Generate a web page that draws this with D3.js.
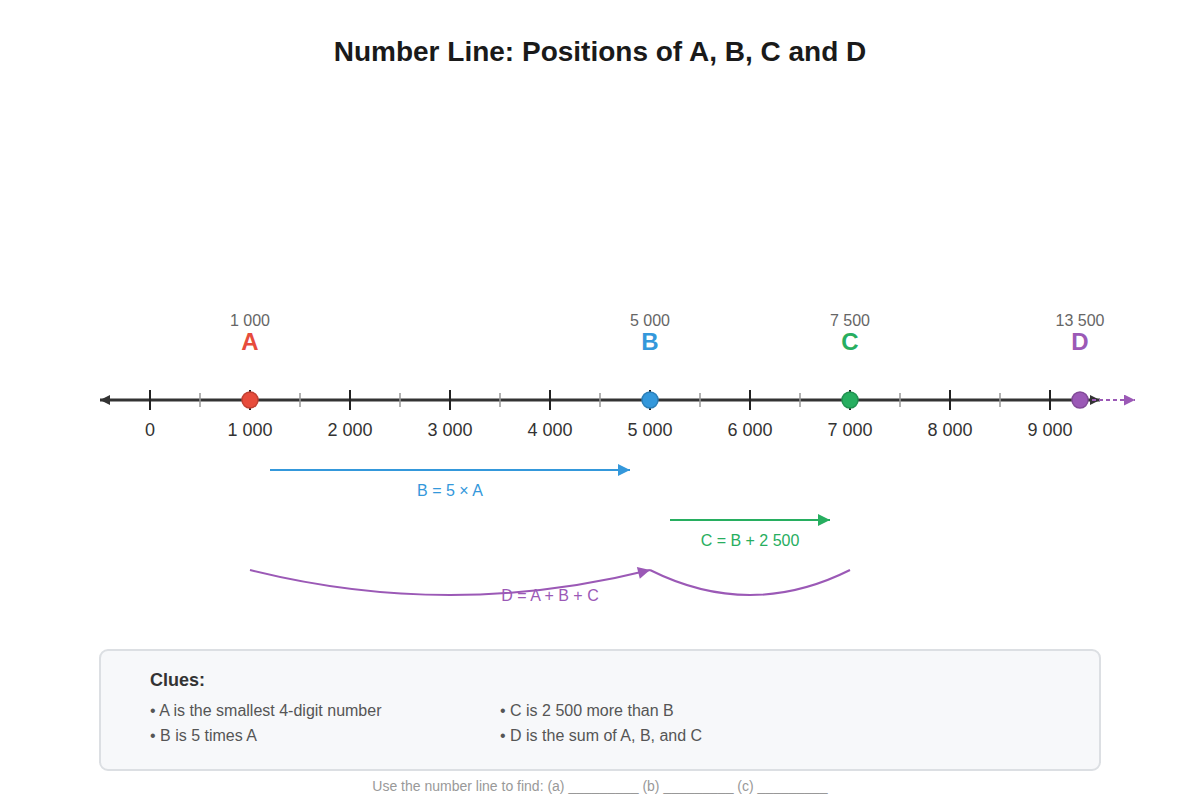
<!DOCTYPE html>
<html lang="en">
<head>
<meta charset="UTF-8">
<title>Number Line</title>
<script src="https://d3js.org/d3.v7.min.js"></script>
<style>
  body { margin: 0; background: #fff; font-family: "Liberation Sans", Arial, sans-serif; }
</style>
</head>
<body>
<svg id="chart" width="1200" height="800"></svg>
<script>
  // data
  const majorTicks = [0, 1000, 2000, 3000, 4000, 5000, 6000, 7000, 8000, 9000];
  const minorTicks = [500, 1500, 2500, 3500, 4500, 5500, 6500, 7500, 8500];
  const pointNames = ["A", "B", "C", "D"];
  const pointValues = [1000, 5000, 7500, 13500];
  // where the chart places each marker on the line
  const plotAt = [1000, 5000, 7000, 9300];
  const pointColors = ["#e74c3c", "#3498db", "#27ae60", "#9b59b6"];
  const clues = [
    ["• A is the smallest 4-digit number", "• B is 5 times A"],
    ["• C is 2 500 more than B", "• D is the sum of A, B, and C"]
  ];
  const points = pointNames.map((n, i) => ({name: n, value: pointValues[i], at: plotAt[i], color: pointColors[i]}));
  const fmt = v => d3.format(",")(v).replace(/,/g, " ");

  const svg = d3.select("#chart");
  const x = d3.scaleLinear().domain([0, 9000]).range([150, 1050]);
  const lineY = 400;

  svg.append("text").attr("x", 600).attr("y", 61).attr("text-anchor", "middle")
    .attr("font-size", 28).attr("font-weight", "bold").attr("fill", "#1a1a1a")
    .text("Number Line: Positions of A, B, C and D");

  const defs = svg.append("defs");
  function marker(id, color, w, h) {
    defs.append("marker").attr("id", id).attr("viewBox", "0 0 10 10")
      .attr("refX", 10).attr("refY", 5).attr("markerWidth", w).attr("markerHeight", h)
      .attr("markerUnits", "userSpaceOnUse").attr("orient", "auto-start-reverse")
      .append("path").attr("d", "M0,0 L10,5 L0,10 Z").attr("fill", color);
  }
  marker("mk-axis", "#333", 10, 10);
  marker("mk-blue", "#3498db", 18, 12);
  marker("mk-green", "#27ae60", 18, 12);
  marker("mk-purple", "#9b59b6", 18, 12);
  marker("mk-purple-s", "#9b59b6", 11, 11);

  // axis line
  svg.append("line").attr("x1", 100).attr("x2", 1100).attr("y1", lineY).attr("y2", lineY)
    .attr("stroke", "#333").attr("stroke-width", 3)
    .attr("marker-start", "url(#mk-axis)").attr("marker-end", "url(#mk-axis)");
  svg.append("line").attr("x1", 1092).attr("x2", 1135).attr("y1", lineY).attr("y2", lineY)
    .attr("stroke", "#9b59b6").attr("stroke-width", 2).attr("stroke-dasharray", "4,3")
    .attr("marker-end", "url(#mk-purple-s)");

  svg.selectAll(".minor").data(minorTicks).join("line")
    .attr("x1", d => x(d)).attr("x2", d => x(d)).attr("y1", lineY - 7).attr("y2", lineY + 7)
    .attr("stroke", "#999").attr("stroke-width", 1.5);
  svg.selectAll(".major").data(majorTicks).join("line")
    .attr("x1", d => x(d)).attr("x2", d => x(d)).attr("y1", lineY - 10).attr("y2", lineY + 10)
    .attr("stroke", "#222").attr("stroke-width", 2);
  svg.selectAll(".tlab").data(majorTicks).join("text")
    .attr("x", d => x(d)).attr("y", lineY + 36).attr("text-anchor", "middle")
    .attr("font-size", 18).attr("fill", "#333").text(d => fmt(d));

  // points
  const g = svg.selectAll(".pt").data(points).join("g");
  g.append("circle").attr("cx", d => x(d.at)).attr("cy", lineY).attr("r", 8)
    .attr("fill", d => d.color).attr("stroke", d => d3.color(d.color).darker(0.5)).attr("stroke-width", 1.5);
  g.append("text").attr("x", d => x(d.at)).attr("y", 326).attr("text-anchor", "middle")
    .attr("font-size", 16).attr("fill", "#666").text(d => fmt(d.value));
  g.append("text").attr("x", d => x(d.at)).attr("y", 350).attr("text-anchor", "middle")
    .attr("font-size", 24).attr("font-weight", "bold").attr("fill", d => d.color).text(d => d.name);

  // relation arrows
  const xA = x(plotAt[0]), xB = x(plotAt[1]), xC = x(plotAt[2]);
  svg.append("line").attr("x1", xA + 20).attr("x2", xB - 20).attr("y1", 470).attr("y2", 470)
    .attr("stroke", "#3498db").attr("stroke-width", 2).attr("marker-end", "url(#mk-blue)");
  svg.append("text").attr("x", (xA + xB) / 2).attr("y", 496).attr("text-anchor", "middle")
    .attr("font-size", 16).attr("fill", "#3498db").text("B = 5 × A");

  svg.append("line").attr("x1", xB + 20).attr("x2", xC - 20).attr("y1", 520).attr("y2", 520)
    .attr("stroke", "#27ae60").attr("stroke-width", 2).attr("marker-end", "url(#mk-green)");
  svg.append("text").attr("x", (xB + xC) / 2).attr("y", 546).attr("text-anchor", "middle")
    .attr("font-size", 16).attr("fill", "#27ae60").text("C = B + 2 500");

  svg.append("path").attr("d", `M${xA},570 Q${(xA + xB) / 2},620 ${xB},570`)
    .attr("fill", "none").attr("stroke", "#9b59b6").attr("stroke-width", 2).attr("marker-end", "url(#mk-purple)");
  svg.append("path").attr("d", `M${xB},570 Q${(xB + xC) / 2},620 ${xC},570`)
    .attr("fill", "none").attr("stroke", "#9b59b6").attr("stroke-width", 2);
  svg.append("text").attr("x", 550).attr("y", 601).attr("text-anchor", "middle")
    .attr("font-size", 16).attr("fill", "#9b59b6").text("D = A + B + C");

  // clues box
  svg.append("rect").attr("x", 100).attr("y", 650).attr("width", 1000).attr("height", 120).attr("rx", 8)
    .attr("fill", "#f7f8fa").attr("stroke", "#dcdfe3").attr("stroke-width", 2);
  svg.append("text").attr("x", 150).attr("y", 686).attr("font-size", 18).attr("font-weight", "bold")
    .attr("fill", "#333").text("Clues:");
  clues.forEach((col, ci) => {
    col.forEach((t, ri) => {
      svg.append("text").attr("x", 150 + ci * 350).attr("y", 716 + ri * 25)
        .attr("font-size", 16).attr("fill", "#555").text(t);
    });
  });
  svg.append("text").attr("x", 600).attr("y", 791).attr("text-anchor", "middle")
    .attr("font-size", 14).attr("fill", "#999")
    .text("Use the number line to find: (a) _________ (b) _________ (c) _________");
</script>
</body>
</html>
